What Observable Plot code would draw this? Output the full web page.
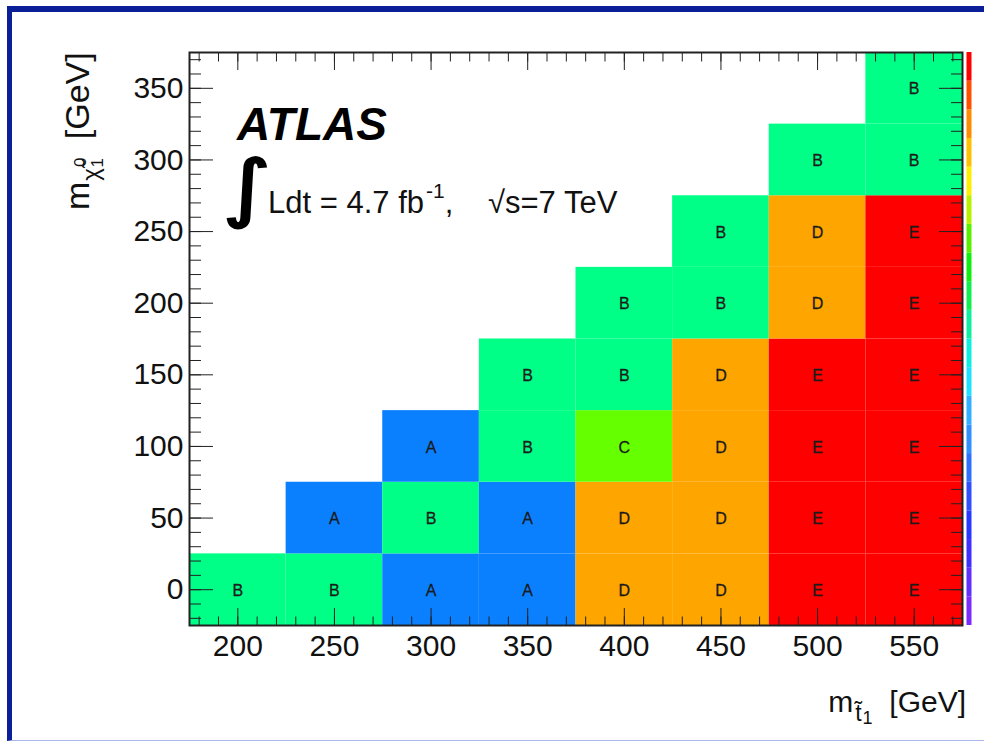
<!DOCTYPE html>
<html><head><meta charset="utf-8">
<script src="https://cdn.jsdelivr.net/npm/d3@7"></script>
<script src="https://cdn.jsdelivr.net/npm/@observablehq/plot@0.6"></script>
<style>
html,body{margin:0;padding:0;background:#fff;}
#wrap{position:relative;width:984px;height:741px;overflow:hidden;}
#border{position:absolute;left:7px;top:6px;width:1000px;height:728px;border-top:6px solid #0b1f99;border-left:5px solid #0b1f99;border-bottom:1px solid #a9b6ea;}
#chart{position:absolute;left:0;top:0;}
</style></head><body>
<div id="wrap"><div id="border"></div><div id="chart"></div></div>
<script>
// stop mass (x) and neutralino mass (y) bin centres
const mStop = [200, 250, 300, 350, 400, 450, 500, 550];
const mLSP = [0, 50, 100, 150, 200, 250, 300, 350];
// best signal region per grid point, one row per mLSP value
const regionGrid = [
  ["B", "B", "A", "A", "D", "D", "E", "E"],
  [null, "A", "B", "A", "D", "D", "E", "E"],
  [null, null, "A", "B", "C", "D", "E", "E"],
  [null, null, null, "B", "B", "D", "E", "E"],
  [null, null, null, null, "B", "B", "D", "E"],
  [null, null, null, null, null, "B", "D", "E"],
  [null, null, null, null, null, null, "B", "B"],
  [null, null, null, null, null, null, null, "B"]
];
const regionNames = ["A", "B", "C", "D", "E"];
const regionColors = ["#0a80ff", "#00ff87", "#66ff00", "#ffa500", "#ff0000"];
const xTicks = [200, 250, 300, 350, 400, 450, 500, 550];
const yTicks = [0, 50, 100, 150, 200, 250, 300, 350];
const xTickLabels = ["200", "250", "300", "350", "400", "450", "500", "550"];
const yTickLabels = ["0", "50", "100", "150", "200", "250", "300", "350"];
// colour palette strip (bottom to top)
const paletteColors = ["#7a2cff", "#6030ff", "#4030ff", "#2838ff", "#3050ff", "#3070ff", "#3090ff", "#30b0ff",
  "#20e0ff", "#10eee0", "#10eea0", "#10ee50", "#10ee10", "#58f000", "#b8f000", "#ffee00",
  "#ffc000", "#ff8c00", "#ff5000", "#ff0000"];

const binWidth = 50;
const xDomain = [175, 575];
const yDomain = [-25, 375];
const xMinor = d3.range(180, 575, 10);
const yMinor = d3.range(-20, 375, 10);

const cells = [];
regionGrid.forEach((row, i) => row.forEach((lab, j) => {
  if (lab) cells.push({x: mStop[j], y: mLSP[i], label: lab});
}));
const step = (yDomain[1] - yDomain[0]) / paletteColors.length;
const paletteBands = paletteColors.map((c, i) => ({y1: yDomain[0] + i * step, y2: yDomain[0] + (i + 1) * step, color: c}));

const fmtX = d => xTickLabels[xTicks.indexOf(d)];
const fmtY = d => yTickLabels[yTicks.indexOf(d)];
const blank = () => "";

const plot = Plot.plot({
  width: 984, height: 741,
  marginLeft: 189, marginRight: 22, marginTop: 52, marginBottom: 116,
  style: {fontFamily: "'Liberation Sans', Arial, sans-serif", background: "transparent", overflow: "visible", color: "#111"},
  x: {domain: xDomain},
  y: {domain: yDomain},
  color: {domain: regionNames, range: regionColors},
  marks: [
    Plot.rect(cells, {x1: d => d.x - binWidth / 2, x2: d => d.x + binWidth / 2, y1: d => d.y - binWidth / 2, y2: d => d.y + binWidth / 2, fill: "label"}),
    Plot.text(cells, {x: "x", y: "y", text: "label", fill: "#1b1b1b", stroke: "#1b1b1b", strokeWidth: 0.3, fontSize: 16, dy: 1}),
    ...paletteBands.map(b => Plot.ruleX([b], {x: () => xDomain[1], y1: "y1", y2: "y2", stroke: b.color, strokeWidth: 5, dx: 6.5})),
    Plot.frame({stroke: "#222", strokeWidth: 2}),
    ...["bottom", "top"].flatMap(a => [
      Plot.axisX(xMinor, {anchor: a, tickSize: -8.5, tickFormat: blank, label: null, stroke: "#222"}),
      Plot.axisX(xTicks, {anchor: a, tickSize: -17, tickFormat: blank, label: null, stroke: "#222"})
    ]),
    ...["left", "right"].flatMap(a => [
      Plot.axisY(yMinor, {anchor: a, tickSize: -12, tickFormat: blank, label: null, stroke: "#222"}),
      Plot.axisY(yTicks, {anchor: a, tickSize: -24, tickFormat: blank, label: null, stroke: "#222"})
    ]),
    Plot.axisX(xTicks, {anchor: "bottom", tickSize: 0, tickPadding: 9, fontSize: 30, label: null, tickFormat: fmtX}),
    Plot.axisY(yTicks, {anchor: "left", tickSize: 0, tickPadding: 6, fontSize: 30, label: null, tickFormat: fmtY})
  ]
});
document.getElementById("chart").appendChild(plot);

const svg = d3.select(plot);
const ff = "'Liberation Sans', Arial, sans-serif";
// ATLAS label
svg.append("text").attr("x", 237).attr("y", 140).attr("text-anchor", "start")
  .attr("font-family", ff).attr("font-size", 46).attr("font-weight", "bold").attr("font-style", "italic")
  .attr("fill", "#000").text("ATLAS");
// luminosity
svg.append("text").attr("transform", "translate(223,213) scale(1.25,1)").attr("text-anchor", "start")
  .attr("font-family", "'DejaVu Sans', sans-serif").attr("font-size", 74)
  .attr("fill", "#000").attr("stroke", "#000").attr("stroke-width", 2).text("∫");
const lumi = svg.append("text").attr("x", 268).attr("y", 213).attr("text-anchor", "start")
  .attr("font-family", ff).attr("font-size", 31).attr("fill", "#111");
lumi.append("tspan").text("Ldt = 4.7 fb");
lumi.append("tspan").attr("dx", 2).attr("dy", -15).attr("font-size", 21).text("-1");
lumi.append("tspan").attr("dy", 15).text(",");
lumi.append("tspan").attr("x", 488).text("√s=7 TeV");
// x axis title
const xt = svg.append("text").attr("x", 966).attr("y", 712).attr("text-anchor", "end")
  .attr("font-family", ff).attr("font-size", 30).attr("fill", "#111").attr("xml:space", "preserve");
xt.append("tspan").text("m");
xt.append("tspan").attr("dx", 2).attr("dy", 9).attr("font-size", 23).text("t\u0303");
xt.append("tspan").attr("dx", 1).attr("dy", 3).attr("font-size", 18).text("1");
xt.append("tspan").attr("dy", -12).text("  [GeV]");
// y axis title
const yt = svg.append("text").attr("transform", "translate(89,210) rotate(-90)").attr("text-anchor", "start")
  .attr("font-family", ff).attr("font-size", 34).attr("fill", "#111").attr("xml:space", "preserve");
yt.append("tspan").text("m");
yt.append("tspan").attr("dx", 1).attr("dy", 10).attr("font-size", 24).text("χ\u0303");
yt.append("tspan").attr("dx", 1).attr("dy", -13).attr("font-size", 17).text("0");
yt.append("tspan").attr("dx", -10).attr("dy", 17).attr("font-size", 17).text("1");
yt.append("tspan").attr("dy", -14).text("  [GeV]");
</script></body></html>
